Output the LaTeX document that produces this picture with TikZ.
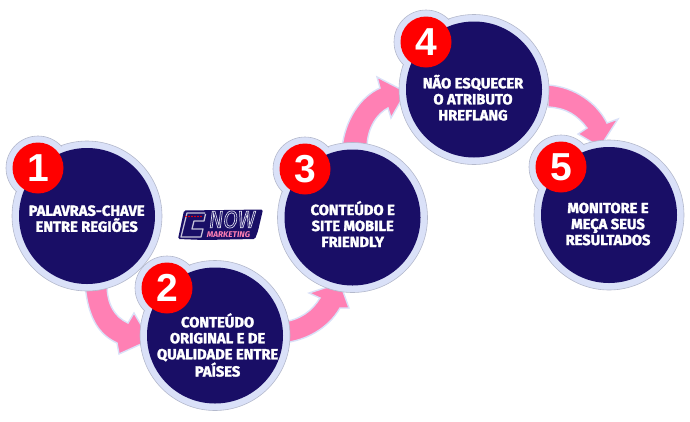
\documentclass[tikz,border=0pt]{standalone}
\usepackage{fontspec}
\setmainfont{Fira Sans}[BoldFeatures={FakeBold=2}]
\newfontfamily\numfont{Liberation Sans}
\newfontfamily\logofont{Fira Sans}
\newfontfamily\logonow{Fira Sans}[FakeStretch=.88]
\definecolor{navy}{HTML}{190E66}
\definecolor{halo}{HTML}{DAE1F8}
\definecolor{haloedge}{HTML}{B4B9CC}
\definecolor{pinkarrow}{HTML}{FF80B4}
\definecolor{badge}{HTML}{FF0000}
\tikzset{
  disc/.style={circle,fill=navy,minimum size=136pt,inner sep=0pt},
  halodisc/.style={circle,fill=halo,draw=haloedge,line width=.6pt,minimum size=150pt,inner sep=0pt},
  halobadge/.style={circle,fill=halo,draw=haloedge,line width=.6pt,minimum size=64pt,inner sep=0pt},
  badgedisc/.style={circle,fill=badge,minimum size=51pt,inner sep=0pt,text=white,font=\numfont\bfseries\fontsize{39}{39}\selectfont},
  lab/.style={text=white,align=center,font=\bfseries\fontsize{14.7}{16}\selectfont,inner sep=0pt},
  flow/.style={fill=pinkarrow,draw=halo,line width=1.4pt,line join=miter},
  logotext/.style={inner sep=0pt}
}
\begin{document}
\begin{tikzpicture}[x=1pt,y=-1pt]
\useasboundingbox (0,0) rectangle (690,421);
% arrows
\draw[flow] (85,284) .. controls (88,320) and (100,335) .. (117,343) -- (119,354) -- (150,340) -- (134,313) -- (128,323) .. controls (115,317) and (107,305) .. (107,284) -- cycle;
\draw[flow] (282,322) .. controls (300,320) and (312,311) .. (320,298) -- (309,293) -- (340,283) -- (349,308) -- (340,308) .. controls (328,329) and (305,341) .. (282,343) -- cycle;
\draw[flow] (342,148) .. controls (345,120) and (360,97) .. (380,88) -- (377,77) -- (406,92) -- (391,118) -- (388,108) .. controls (378,113) and (367,127) .. (367,148) -- cycle;
\draw[flow] (548,85) .. controls (575,87) and (597,103) .. (607,123) -- (618,119) -- (600,147) -- (578,134) -- (587,128) .. controls (578,116) and (567,108) .. (548,107) -- cycle;
% discs
\foreach \n/\cx/\cy/\bx/\by in {1/87/216/38/168,2/215/335.5/167/288,3/352.5/217.5/305/169,4/474/89.5/426/42,5/609/215/561/167}{
  \node[halodisc] (h\n) at (\cx,\cy) {};
  \node[halobadge] (g\n) at (\bx,\by) {};
}
\foreach \n/\cx/\cy/\bx/\by in {1/87/216/38/168,2/215/335.5/167/288,3/352.5/217.5/305/169,4/474/89.5/426/42,5/609/215/561/167}{
  \fill[halo] (\cx,\cy) circle (74);
  \node[disc] (c\n) at (\cx,\cy) {};
  \node[badgedisc] (b\n) at (\bx,\by) {\n};
}
\node[lab] (t1) at (86.7,218.7) {PALAVRAS-CHAVE\\ENTRE REGIÕES};
\node[lab] (t2) at (217.6,345) {CONTEÚDO\\ORIGINAL E DE\\QUALIDADE ENTRE\\PAÍSES};
\node[lab] (t3) at (352.7,224) {CONTEÚDO E\\SITE MOBILE\\FRIENDLY};
\node[lab] (t4) at (473,97.7) {NÃO ESQUECER\\O ATRIBUTO\\HREFLANG};
\node[lab] (t5) at (608,224) {MONITORE E\\MEÇA SEUS\\RESULTADOS};
% logo
\fill[navy,rounded corners=1.5pt] (184,210.5) -- (263,209.5) -- (258,231) -- (255,239) -- (204,240) -- (178,239) -- cycle;
\draw[white!75!navy,line width=1.3pt,line join=round] (205,213) -- (187,213) -- (181,237) -- (201,237) -- (203,229) -- (192,229) -- (194,221) -- (204,221) -- (205.5,214);
\foreach \sx in {186,189,192,195,198,201}{\fill[red] (\sx,216.5) circle (.9);}
\node[logotext,text=navy,font=\logonow\itshape\fontsize{24}{24}\selectfont] (ln) at (232,219.5) {\special{pdf:code q 2 Tr 0.7 w 0.85 0.85 0.92 RG}NOW\special{pdf:code Q}};
\node[text=pinkarrow,font=\logofont\itshape\bfseries\fontsize{8.3}{8}\selectfont,inner sep=0pt] (lm) at (228.5,235) {MARKETING};
\end{tikzpicture}
\end{document}
